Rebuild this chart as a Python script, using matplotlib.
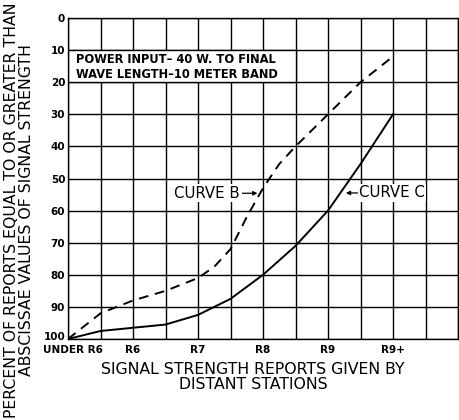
import matplotlib
matplotlib.use("Agg")
import matplotlib.pyplot as plt
import matplotlib.transforms as mtransforms
from matplotlib.patches import Rectangle

# curva B (discontinua) y curva C (continua)
x_b = [0, 1, 2, 3, 4, 4.5, 5, 5.5, 6, 6.5, 7, 8, 9, 10]
y_b = [100, 92, 88, 85, 81, 77.5, 72, 62, 53, 45.5, 40, 30, 20, 12]

x_c = [0, 1, 2, 3, 4, 5, 6, 7, 8, 9, 10]
y_c = [100, 97.5, 96.5, 95.5, 92.5, 87.5, 80, 71, 60, 45.5, 30]

xtick_pos = [0, 2, 4, 6, 8, 10]
xtick_lab = ["UNDER R6", "R6", "R7", "R8", "R9", "R9+"]
ytick_pos = list(range(0, 101, 10))

fig = plt.figure(figsize=(4.59, 4.2), dpi=100)
ax = fig.add_axes([68 / 459, 1 - 339 / 420, 390 / 459, 321 / 420])

ax.set_xlim(0, 12)
ax.set_ylim(100, 0)
ax.set_xticks(range(0, 13), minor=True)
ax.set_xticks(xtick_pos)
ax.set_xticklabels(xtick_lab, fontsize=7.5, fontweight="bold")
ax.set_yticks(ytick_pos)
ax.set_yticklabels([str(v) for v in ytick_pos], fontsize=7.5, fontweight="bold")
ax.tick_params(length=0, pad=2, which="both")
ax.tick_params(axis="x", pad=4)
ax.grid(True, which="both", color="black", linewidth=1.0)
for s in ax.spines.values():
    s.set_linewidth(1.0)

# desplazar "UNDER R6" a la derecha y "100" hacia arriba
lbl = ax.get_xticklabels()[0]
lbl.set_transform(lbl.get_transform() + mtransforms.ScaledTranslation(5 / 100, 0, fig.dpi_scale_trans))
lbl = ax.get_yticklabels()[-1]
lbl.set_transform(lbl.get_transform() + mtransforms.ScaledTranslation(0, 3 / 100, fig.dpi_scale_trans))

ax.plot(x_c, y_c, color="black", linewidth=1.4, zorder=3)
ax.plot(x_b, y_b, color="black", linewidth=1.4, dashes=(5, 3.5), zorder=3)

# recuadro de condiciones
ax.add_patch(Rectangle((0, 10), 7, 10, facecolor="white", edgecolor="black",
                       linewidth=1.0, zorder=2.5))
ax.text(0.25, 15.2, "POWER INPUT\u2013 40 W. TO FINAL\nWAVE LENGTH\u201310 METER BAND",
        fontsize=8.3, fontweight="bold", va="center", ha="left", linespacing=1.15, zorder=4)

ax.annotate("CURVE B", xy=(5.83, 54.6), xytext=(5.3, 54.6), fontsize=10.8,
            ha="right", va="center", zorder=4,
            bbox=dict(facecolor="white", edgecolor="none", pad=1),
            arrowprops=dict(arrowstyle="-|>", color="black", lw=0.9,
                            mutation_scale=6, shrinkA=0, shrinkB=0))
ax.annotate("CURVE C", xy=(8.55, 54.5), xytext=(8.95, 54.5), fontsize=10.8,
            ha="left", va="center", zorder=4,
            bbox=dict(facecolor="white", edgecolor="none", pad=1),
            arrowprops=dict(arrowstyle="-|>", color="black", lw=0.9,
                            mutation_scale=6, shrinkA=0, shrinkB=0))

fig.text(253 / 459, 1 - 377 / 420, "SIGNAL STRENGTH REPORTS GIVEN BY\nDISTANT STATIONS",
         fontsize=11.3, ha="center", va="center", linespacing=1.0)
fig.text(19 / 459, 1 - 210 / 420, "PERCENT OF REPORTS EQUAL TO OR GREATER THAN\nABSCISSAE VALUES OF SIGNAL STRENGTH",
         fontsize=11.3, ha="center", va="center", rotation=90, linespacing=0.95)

fig.savefig("out.png", dpi=100)
